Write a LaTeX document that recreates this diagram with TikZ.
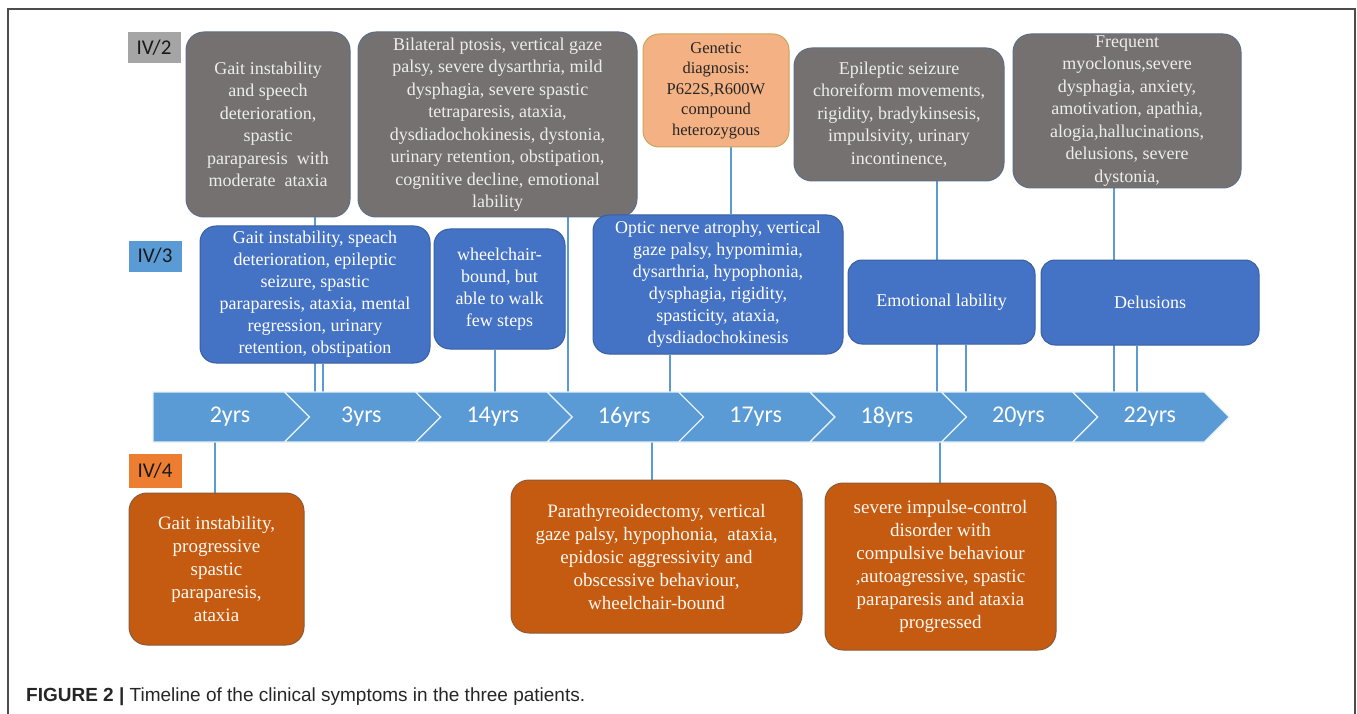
\documentclass[tikz,border=0pt]{standalone}
\usepackage{fontspec}
\setmainfont{Liberation Serif}
\newfontfamily\boxfont{Liberation Serif}
\newfontfamily\yrsfont{Carlito}
\newfontfamily\capfont{Liberation Sans}
\usepackage{tikz}

\definecolor{boxgray}{HTML}{767171}
\definecolor{boxblue}{HTML}{4472C4}
\definecolor{boxorange}{HTML}{C55A11}
\definecolor{genorange}{HTML}{F4B183}
\definecolor{tlblue}{HTML}{5B9BD5}
\definecolor{labgray}{HTML}{A5A5A5}
\definecolor{laborange}{HTML}{ED7D31}
\definecolor{grayedge}{HTML}{5C6E86}
\definecolor{blueedge}{HTML}{3A5F9E}
\definecolor{orangeedge}{HTML}{8A5A3A}
\definecolor{genedge}{HTML}{C9A55A}

\pgfdeclarelayer{bg}
\pgfsetlayers{bg,main}

\begin{document}
\begin{tikzpicture}
[x=1pt, y=1pt, every node/.style={inner sep=0pt},
 graybox/.style={rounded corners=18pt, fill=boxgray, draw=grayedge, line width=1pt, text=white!93!black, align=center, font=\boxfont\fontsize{18}{22.5}\selectfont},
 bluebox/.style={rounded corners=16pt, fill=boxblue, draw=blueedge, line width=1pt, text=white, align=center, font=\boxfont\fontsize{18}{22}\selectfont},
 orangebox/.style={rounded corners=18pt, fill=boxorange, draw=orangeedge, line width=1pt, text=white!95!orange, align=center, font=\boxfont\fontsize{19}{23}\selectfont},
 genbox/.style={rounded corners=16pt, fill=genorange, draw=genedge, line width=1pt, text=black!85, align=center, font=\boxfont\fontsize{16.5}{20.5}\selectfont},
 patient/.style={minimum width=53pt, minimum height=31pt, text=black!90, font=\yrsfont\fontsize{21}{24}\selectfont},
 yrs/.style={text=white, font=\yrsfont\fontsize{24}{26}\selectfont},
 segment/.style={fill=tlblue, draw=white!85!tlblue, line width=1.2pt},
 link/.style={draw=tlblue, line width=2pt}]
\useasboundingbox (0,0) rectangle (1357pt,-714pt);
\draw [gray!60!black, line width=1.2pt] (8pt,-714pt) -- (8pt,-9pt) -- (1355pt,-9pt) -- (1355pt,-714pt);

% timeline
\foreach \yr [count=\i from 0] in {2yrs,3yrs,14yrs,16yrs,17yrs,18yrs,20yrs,22yrs} {
  \pgfmathsetmacro{\xa}{153+131.4*\i}
  \pgfmathsetmacro{\nd}{ifthenelse(\i>0,25,0)}
  \filldraw [segment] (\xa,-392) -- ++(131.4,0) -- ++(25,-25) -- ++(-25,-25) -- ++(-131.4,0) -- ++(\nd,25) -- cycle;
  \node (y\i) [yrs] at (\xa+77,-417) {\yr};
}
\coordinate (tltop) at (0pt,-392pt);
\coordinate (tlbot) at (0pt,-442pt);

% patients
\node (iv2) [patient, fill=labgray] at (154pt, -48pt) {IV/2};
\node (iv3) [patient, fill=tlblue] at (155pt, -256pt) {IV/3};
\node (iv4) [patient, fill=laborange, minimum height=34pt] at (155pt, -471pt) {IV/4};

% IV/2
\node (g1) [graybox, minimum width=164pt, minimum height=185pt] at (268pt, -124.5pt) {Gait instability\\and speech\\deterioration,\\spastic\\paraparesis\ \ with\\moderate\ \ ataxia};
\node (g2) [graybox, minimum width=279pt, minimum height=185pt] at (497.5pt, -124.5pt) {Bilateral ptosis, vertical gaze\\palsy, severe dysarthria, mild\\dysphagia, severe spastic\\tetraparesis, ataxia,\\dysdiadochokinesis, dystonia,\\urinary retention, obstipation,\\cognitive decline, emotional\\lability};
\node (gen) [genbox, minimum width=146pt, minimum height=113pt] at (716pt, -90.5pt) {Genetic\\diagnosis:\\P622S,R600W\\compound\\heterozygous};
\node (g3) [graybox, minimum width=210pt, minimum height=133pt] at (899pt, -114.5pt) {Epileptic seizure\\choreiform movements,\\rigidity, bradykinsesis,\\impulsivity, urinary\\incontinence,};
\node (g4) [graybox, minimum width=228pt, minimum height=154pt] at (1127pt, -111pt) {Frequent\\myoclonus,severe\\dysphagia, anxiety,\\amotivation, apathia,\\alogia,hallucinations,\\delusions, severe\\dystonia,};

% IV/3
\node (b1) [bluebox, minimum width=230pt, minimum height=137pt] at (315pt, -294.5pt) {Gait instability, speach\\deterioration, epileptic\\seizure, spastic\\paraparesis, ataxia, mental\\regression, urinary\\retention, obstipation};
\node (b2) [bluebox, minimum width=131pt, minimum height=120pt] at (499.5pt, -289pt) {wheelchair-\\bound, but\\able to walk\\few steps};
\node (b3) [bluebox, minimum width=250pt, minimum height=139pt] at (718pt, -284.5pt) {Optic nerve atrophy, vertical\\gaze palsy, hypomimia,\\dysarthria, hypophonia,\\dysphagia, rigidity,\\spasticity, ataxia,\\dysdiadochokinesis};
\node (b4) [bluebox, rounded corners=14pt, minimum width=187pt, minimum height=84pt] at (941.5pt, -302pt) {Emotional lability};
\node (b5) [bluebox, rounded corners=14pt, minimum width=218pt, minimum height=85pt] at (1150pt, -302.5pt) {Delusions};

% IV/4
\node (o1) [orangebox, minimum width=175pt, minimum height=152pt] at (216.5pt, -569pt) {Gait instability,\\progressive\\spastic\\paraparesis,\\ataxia};
\node (o2) [orangebox, minimum width=291pt, minimum height=153pt] at (656.5pt, -556.5pt) {Parathyreoidectomy, vertical\\gaze palsy, hypophonia,\ \ ataxia,\\epidosic aggressivity and\\obscessive behaviour,\\wheelchair-bound};
\node (o3) [orangebox, minimum width=231pt, minimum height=167pt] at (940.5pt, -566.5pt) {severe impulse-control\\disorder with\\compulsive behaviour\\,autoagressive, spastic\\paraparesis and ataxia\\progressed};

\begin{pgfonlayer}{bg}
\draw [link] ([xshift=47pt]g1.south) -- ([xshift=47pt]g1.south |- tltop);
\draw [link] ([xshift=8pt]b1.south) -- ([xshift=8pt]b1.south |- tltop);
\draw [link] ([xshift=-4.5pt]b2.south) -- ([xshift=-4.5pt]b2.south |- tltop);
\draw [link] ([xshift=70.5pt]g2.south) -- ([xshift=70.5pt]g2.south |- tltop);
\draw [link] ([xshift=15pt]gen.south) -- ([xshift=15pt]gen.south |- b3.north);
\draw [link] ([xshift=-48pt]b3.south) -- ([xshift=-48pt]b3.south |- tltop);
\draw [link] ([xshift=38pt]g3.south) -- ([xshift=38pt]g3.south |- tltop);
\draw [link] ([xshift=24.5pt]b4.south) -- ([xshift=24.5pt]b4.south |- tltop);
\draw [link] ([xshift=-13pt]g4.south) -- ([xshift=-13pt]g4.south |- tltop);
\draw [link] ([xshift=-13pt]b5.south) -- ([xshift=-13pt]b5.south |- tltop);
\draw [link] ([xshift=-1.5pt]o1.north |- tlbot) -- ([xshift=-1.5pt]o1.north);
\draw [link] ([xshift=-4.5pt]o2.north |- tlbot) -- ([xshift=-4.5pt]o2.north);
\draw [link] ([xshift=-0.5pt]o3.north |- tlbot) -- ([xshift=-0.5pt]o3.north);
\end{pgfonlayer}

\node (cap) [anchor=base west, text=black!85, font=\capfont\fontsize{19}{21}\selectfont] at (26pt,-701pt) {\textbf{FIGURE 2 |} Timeline of the clinical symptoms in the three patients.};
\end{tikzpicture}
\end{document}
